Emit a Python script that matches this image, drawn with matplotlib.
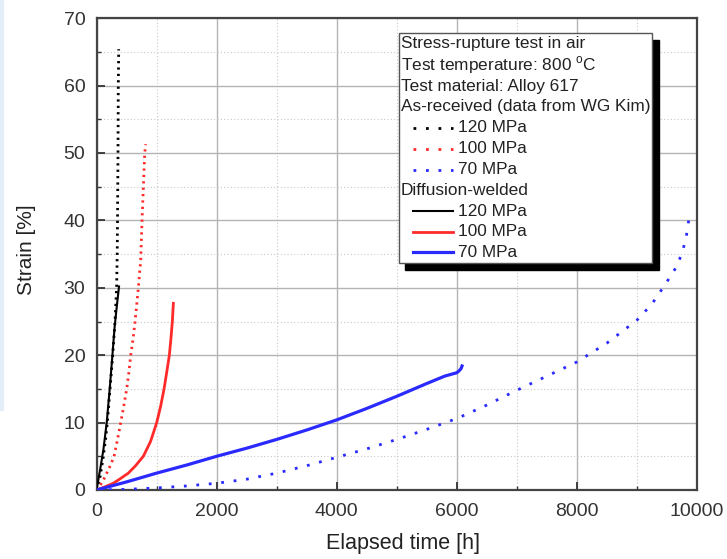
import matplotlib
matplotlib.use("Agg")
import matplotlib.pyplot as plt
from matplotlib.lines import Line2D
from matplotlib.patches import Rectangle
from matplotlib.ticker import MultipleLocator

plt.rcParams["font.family"] = ["Liberation Sans", "DejaVu Sans"]

# as-received (data from WG Kim), dotted
ar120_t = [0, 60, 114, 150, 180, 225, 270, 308, 335, 345, 350, 358, 363, 370]
ar120_e = [0, 2, 5, 7.5, 10, 15, 20, 25, 30, 35, 40, 50, 60, 65.4]
ar100_t = [0, 100, 170, 235, 292, 350, 403, 455, 503, 540, 570, 610, 642, 670,
           697, 720, 736, 758, 781, 803, 820]
ar100_e = [0, 1.2, 2.5, 3.7, 5, 7.5, 10, 12.5, 15, 17.5, 20, 22.5, 25, 27.5,
           30, 32.5, 34, 40, 45, 50, 51.3]
ar70_t = [0, 500, 1000, 1500, 2000, 2500, 3000, 3500, 4000, 4500, 5000, 5500,
          6000, 6500, 7000, 7500, 8000, 8500, 9000, 9250, 9500, 9650, 9750, 9820, 9870]
ar70_e = [0, 0.1, 0.3, 0.6, 1.0, 1.6, 2.5, 3.6, 4.85, 6.1, 7.5, 9.0,
          10.6, 12.6, 14.8, 16.9, 19.0, 21.8, 25.2, 27.6, 30.9, 33.0, 35.1, 37.5, 40.5]

# diffusion-welded, solid
dw120_t = [0, 60, 115, 170, 220, 265, 300, 335, 375]
dw120_e = [0, 3, 6, 10, 15, 20, 24, 27, 30.2]
dw100_t = [0, 150, 280, 400, 530, 650, 780, 900, 1003, 1070, 1125, 1170,
           1213, 1240, 1263, 1280]
dw100_e = [0, 0.5, 1, 1.7, 2.5, 3.6, 5, 7.2, 10, 12.5, 15, 17.5,
           20, 22.5, 25, 27.7]
dw70_t = [0, 500, 1000, 1500, 2000, 2500, 3000, 3500, 4000, 4500, 5000, 5500,
          5800, 5900, 6000, 6040, 6070, 6087]
dw70_e = [0, 1.2, 2.5, 3.7, 5.0, 6.2, 7.5, 8.9, 10.4, 12.1, 13.9, 15.8,
          16.9, 17.15, 17.4, 17.7, 18.0, 18.4]

header = ["Stress-rupture test in air",
          "Test temperature: 800 $^{\\mathregular{o}}$C",
          "Test material: Alloy 617",
          "As-received (data from WG Kim)"]
labels = ["120 MPa", "100 MPa", "70 MPa"]

BLACK = "#000000"
RED = "#ff2a2a"
BLUE = "#2a2aff"

fig = plt.figure(figsize=(7.27, 5.59), dpi=100)
fig.patches.append(Rectangle((0, 1 - 410 / 559), 3 / 727, 410 / 559,
                             transform=fig.transFigure, color="#e4eef9", zorder=0))
ax = fig.add_axes([96.5 / 727, 1 - 490 / 559, 600.5 / 727, 471.8 / 559])

dot_a = (0, (0.8, 1.5))
dot_b = (0, (1.0, 3.5))
ax.plot(ar120_t, ar120_e, color=BLACK, lw=2, linestyle=dot_a, zorder=3)
ax.plot(ar100_t, ar100_e, color=RED, lw=2, linestyle=dot_a, zorder=3)
ax.plot(ar70_t, ar70_e, color=BLUE, lw=2, linestyle=dot_b, zorder=3)
ax.plot(dw120_t, dw120_e, color=BLACK, lw=1.5, zorder=4)
ax.plot(dw100_t, dw100_e, color=RED, lw=2, zorder=4)
ax.plot(dw70_t, dw70_e, color=BLUE, lw=2.3, zorder=4)

ax.set_xlim(0, 10000)
ax.set_ylim(0, 70)
ax.xaxis.set_major_locator(MultipleLocator(2000))
ax.xaxis.set_minor_locator(MultipleLocator(1000))
ax.yaxis.set_major_locator(MultipleLocator(10))
ax.yaxis.set_minor_locator(MultipleLocator(5))
ax.grid(True, which="major", color="#b4b4b4", lw=1.0, linestyle="-")
ax.grid(True, which="minor", color="#c8c8c8", lw=0.8, linestyle=(0, (1, 2)))
ax.set_axisbelow(True)
ax.tick_params(which="both", direction="in", top=False, right=False,
               labelsize=14, labelcolor="#333333", color="#333333")
ax.tick_params(which="major", length=6, width=1.3)
ax.tick_params(axis="x", which="major", pad=9)
ax.tick_params(axis="y", which="major", pad=8)
ax.tick_params(which="minor", length=3, width=1.0)
for s in ax.spines.values():
    s.set_color("#444444")
    s.set_linewidth(1.6)

ax.set_xlabel("Elapsed time [h]", fontsize=15.5, color="#222222")
ax.set_ylabel("Strain [%]", fontsize=15, color="#222222")
ax.xaxis.set_label_coords((403 - 96.5) / 600.5, (490 - 533) / 471.8)
ax.yaxis.set_label_coords((36 - 96.5) / 600.5, (490 - 250) / 471.8)

# legend box drawn by hand (Origin style, shadow)
def px(x, y):
    return (x - 96.5) / 600.5, (490 - y) / 471.8

x0, y0 = px(398.5, 263)
x1, y1 = px(651.5, 33)
ax.add_patch(Rectangle((x0 + 7 / 600.5, y0 - 7 / 471.8), x1 - x0, y1 - y0,
                       transform=ax.transAxes, facecolor="black",
                       edgecolor="black", zorder=6))
ax.add_patch(Rectangle((x0, y0), x1 - x0, y1 - y0, transform=ax.transAxes,
                       facecolor="white", edgecolor="#555555", lw=1.0, zorder=7))

rows = [44, 65.5, 86.2, 107, 128, 149, 170, 190.5, 211.5, 232, 252.5]
fs = 12.4
for text, yy in zip(header, rows[:4]):
    ax.text(*px(400.5, yy), text, transform=ax.transAxes, fontsize=fs,
            color="#222222", va="center", ha="left", zorder=8)
ax.text(*px(400.5, rows[7]), "Diffusion-welded", transform=ax.transAxes,
        fontsize=fs, color="#222222", va="center", ha="left", zorder=8)

for c, lab, yy in zip([BLACK, RED, BLUE], labels, rows[4:7]):
    xa, ya = px(413, yy)
    xb, _ = px(453, yy)
    ax.add_line(Line2D([xa, xb], [ya, ya], transform=ax.transAxes, color=c,
                       lw=2, linestyle=dot_b, zorder=8))
    ax.text(*px(458, yy), lab, transform=ax.transAxes, fontsize=fs,
            color="#222222", va="center", ha="left", zorder=8)
for (c, lw), lab, yy in zip([(BLACK, 1.5), (RED, 2), (BLUE, 2.3)], labels, rows[8:11]):
    xa, ya = px(413, yy)
    xb, _ = px(453, yy)
    ax.add_line(Line2D([xa, xb], [ya, ya], transform=ax.transAxes, color=c,
                       lw=lw, zorder=8))
    ax.text(*px(458, yy), lab, transform=ax.transAxes, fontsize=fs,
            color="#222222", va="center", ha="left", zorder=8)

fig.savefig("out.png", dpi=100)
